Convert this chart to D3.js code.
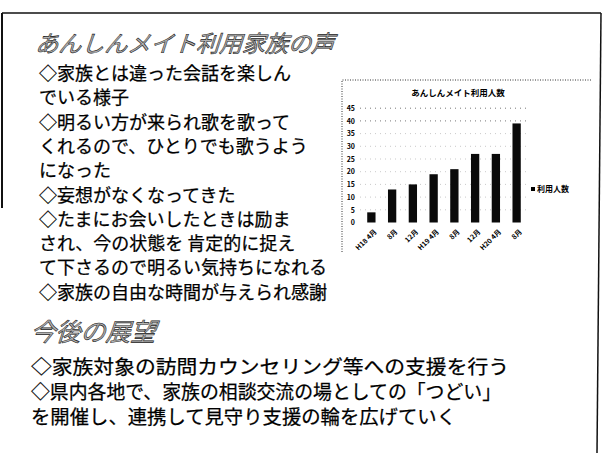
<!DOCTYPE html>
<html>
<head>
<meta charset="utf-8">
<script src="https://cdn.jsdelivr.net/npm/d3@7"></script>
<style>
  body { margin: 0; background: #fff; }
  svg { display: block; }
</style>
</head>
<body>
<div id="slide"></div>
<script>
var outerWidth = 611,
    outerHeight = 453;

// chart data
var periods = ["H18-4", "H18-8", "H18-12", "H19-4", "H19-8", "H19-12", "H20-4", "H20-8"];
var periodLabels = ["H18 4月", "8月", "12月", "H19 4月", "8月", "12月", "H20 4月", "8月"];
var users = [4, 13, 15, 19, 21, 27, 27, 39];
var yTicks = [0, 5, 10, 15, 20, 25, 30, 35, 40, 45];
var chartTitle = "あんしんメイト利用人数";
var seriesName = "利用人数";

// slide text
var titleVoice = "あんしんメイト利用家族の声";
var voiceLines = [
    "◇家族とは違った会話を楽しん",
    "でいる様子",
    "◇明るい方が来られ歌を歌って",
    "くれるので、ひとりでも歌うよう",
    "になった",
    "◇妄想がなくなってきた",
    "◇たまにお会いしたときは励ま",
    "され、今の状態を 肯定的に捉え",
    "て下さるので明るい気持ちになれる",
    "◇家族の自由な時間が与えられ感謝"
];
var titleFuture = "今後の展望";
var futureLines = [
    "◇家族対象の訪問カウンセリング等への支援を行う",
    "◇県内各地で、家族の相談交流の場としての「つどい」",
    "を開催し、連携して見守り支援の輪を広げていく"
];
// measured line widths in the scan (proportional font)
var futureWidths = [478, 470, 425];

var jp = "'Noto Sans CJK JP', 'Noto Sans', sans-serif";

var svg = d3.select("#slide")
    .append("svg")
    .attr("width", outerWidth)
    .attr("height", outerHeight);

// slide frame (scanned, slightly skewed on the right)
svg.append("line")
    .attr("x1", 2).attr("y1", 13).attr("x2", 601).attr("y2", 13)
    .style("stroke", "#111").style("stroke-width", 1.5);
svg.append("line")
    .attr("x1", 601).attr("y1", 13).attr("x2", 597).attr("y2", 453)
    .style("stroke", "#111").style("stroke-width", 1.5);
svg.append("line")
    .attr("x1", 2).attr("y1", 13).attr("x2", 2).attr("y2", 208)
    .style("stroke", "#111").style("stroke-width", 2);

function fancyTitle(txt, x, y, size) {
    svg.append("text")
        .attr("transform", "translate(" + x + "," + y + ") skewX(-18)")
        .style("font-family", jp)
        .style("font-size", size + "px")
        .style("fill", "#b4b4b4")
        .style("stroke", "#222")
        .style("stroke-width", 0.6)
        .text(txt);
}

fancyTitle(titleVoice, 35, 52, 23);
fancyTitle(titleFuture, 30, 341, 25);

svg.selectAll(".voice")
    .data(voiceLines)
    .enter().append("text")
    .classed("voice", true)
    .attr("x", 39)
    .attr("y", function(d, i) { return 80 + i * 24.3; })
    .style("font-family", jp)
    .style("font-size", "18px")
    .style("fill", "#000")
    .style("stroke", "#000")
    .style("stroke-width", 0.25)
    .text(function(d) { return d; });

svg.selectAll(".future")
    .data(futureLines)
    .enter().append("text")
    .classed("future", true)
    .attr("x", 31)
    .attr("y", function(d, i) { return 374 + i * 25; })
    .attr("textLength", function(d, i) { return futureWidths[i]; })
    .attr("lengthAdjust", "spacingAndGlyphs")
    .style("font-family", jp)
    .style("font-size", "19px")
    .style("fill", "#000")
    .style("stroke", "#000")
    .style("stroke-width", 0.25)
    .text(function(d) { return d; });

// ---- embedded chart ----
var chart = svg.append("g").classed("chart", true);

chart.append("path")
    .attr("d", "M342,252 L342,80 L592,80")
    .style("fill", "none")
    .style("stroke", "#333")
    .style("stroke-dasharray", "1,1.5");

chart.append("text")
    .attr("x", 458)
    .attr("y", 96)
    .style("text-anchor", "middle")
    .style("font-family", jp)
    .style("font-size", "8.5px")
    .style("font-weight", "bold")
    .text(chartTitle);

var x = d3.scaleBand()
    .domain(periods)
    .range([361, 527])
    .paddingInner(0.6)
    .paddingOuter(0.3);

var y = d3.scaleLinear()
    .domain([0, 45])
    .range([222.5, 108.2]);

var yAxis = d3.axisLeft(y)
    .tickValues(yTicks)
    .tickSize(0)
    .tickPadding(5);

var yg = chart.append("g")
    .attr("transform", "translate(360,0)")
    .call(yAxis);
yg.select(".domain").remove();
yg.selectAll("text")
    .style("font-family", jp)
    .style("font-size", "7px")
    .style("font-weight", "bold")
    .style("fill", "#000");

chart.selectAll(".grid")
    .data(yTicks.slice(1))
    .enter().append("line")
    .classed("grid", true)
    .attr("x1", 360)
    .attr("x2", 528)
    .attr("y1", function(d) { return y(d); })
    .attr("y2", function(d) { return y(d); })
    .style("stroke", function(d) { return d >= 40 ? "#555" : "#bbb"; })
    .style("stroke-width", 0.8)
    .style("stroke-dasharray", "1,4");

chart.selectAll(".bar")
    .data(users)
    .enter().append("rect")
    .classed("bar", true)
    .attr("x", function(d, i) { return x(periods[i]); })
    .attr("y", function(d) { return y(d); })
    .attr("width", x.bandwidth())
    .attr("height", function(d) { return y(0) - y(d); })
    .style("fill", "#0a0a0a");

var xAxis = d3.axisBottom(x)
    .tickSize(0)
    .tickFormat(function(d, i) { return periodLabels[i]; });

var xg = chart.append("g")
    .attr("transform", "translate(0," + y(0) + ")")
    .call(xAxis);
xg.select(".domain").remove();
xg.selectAll("text")
    .attr("transform", "translate(4,8) rotate(-45)")
    .attr("dy", "0.35em")
    .attr("y", 0)
    .style("text-anchor", "end")
    .style("font-family", jp)
    .style("font-size", "7px")
    .style("font-weight", "bold")
    .style("fill", "#000");

var legend = chart.append("g")
    .attr("transform", "translate(531,189)");
legend.append("rect")
    .attr("x", 0).attr("y", -2)
    .attr("width", 4).attr("height", 4)
    .style("fill", "#000");
legend.append("text")
    .attr("x", 6)
    .attr("dy", "0.35em")
    .style("font-family", jp)
    .style("font-size", "8px")
    .style("font-weight", "bold")
    .text(seriesName);
</script>
</body>
</html>
